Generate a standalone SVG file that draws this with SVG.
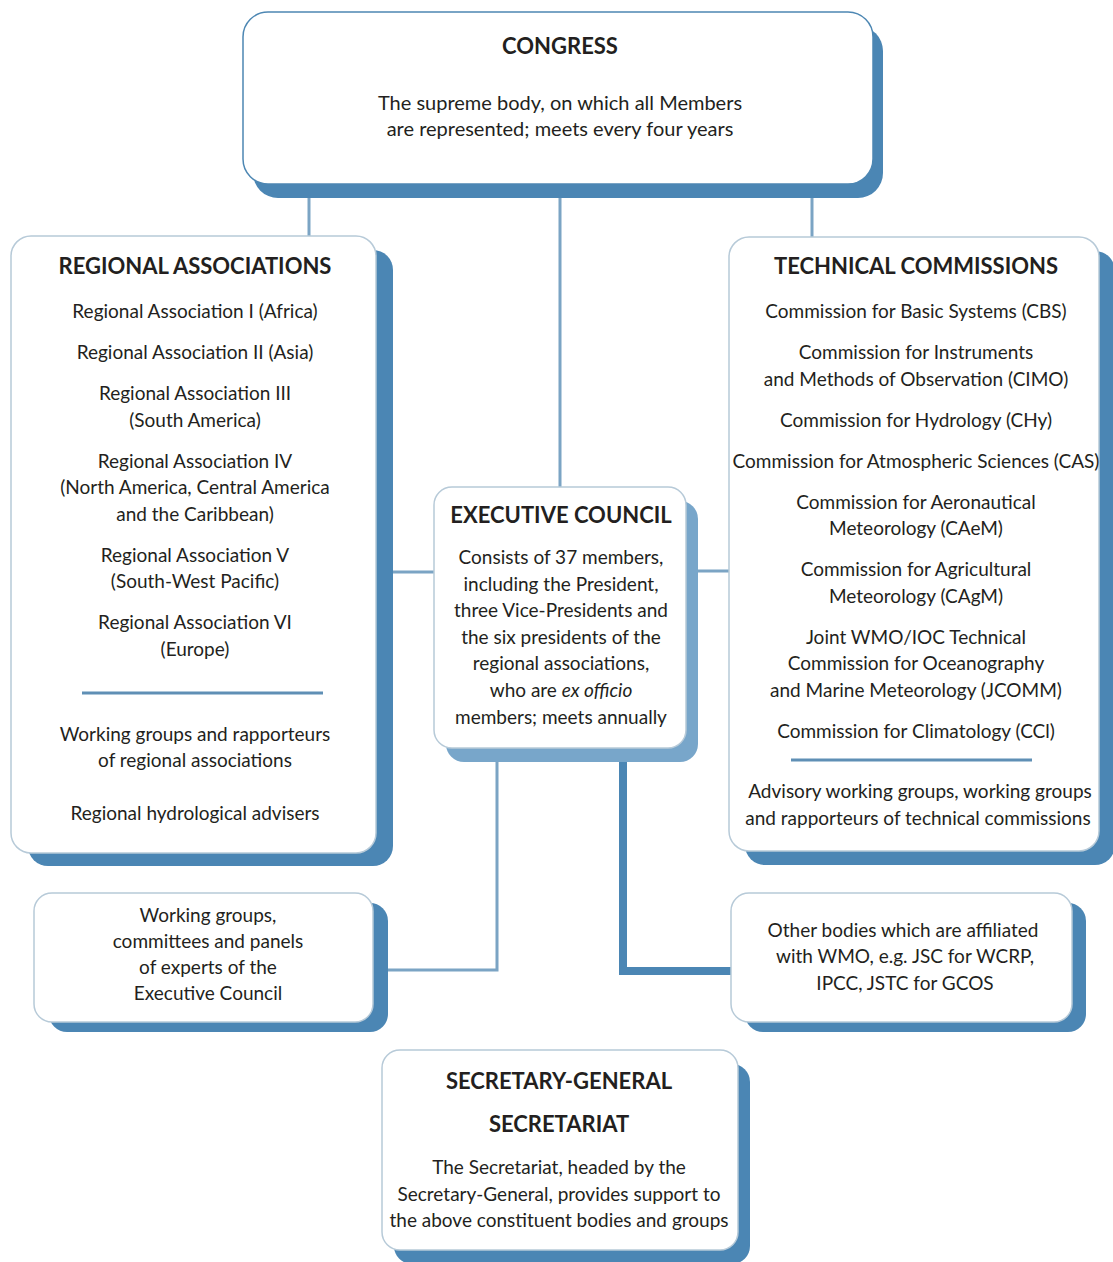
<svg xmlns="http://www.w3.org/2000/svg" width="1113" height="1262" viewBox="0 0 1113 1262">
<style>
.box{fill:#ffffff;stroke:#b7cad8;stroke-width:1.5}
.cbox{fill:#ffffff;stroke:#4d87b3;stroke-width:1.5}
.sh{fill:#4b86b4}
.shl{fill:#78a6ca}
.t{font-family:Lato,"Open Sans","Liberation Sans",sans-serif;font-size:19px;fill:#231f20;text-anchor:middle}
.tb{font-size:20px}
.h{font-family:Lato,"Open Sans","Liberation Sans",sans-serif;font-size:22px;font-weight:bold;fill:#231f20;text-anchor:middle}
.ln{stroke:#7ba4c4;stroke-width:3;fill:none}
.lnd{stroke:#4b86b4;stroke-width:8;fill:none}
.sep{stroke:#5f8fb5;stroke-width:3}
</style>
<rect width="1113" height="1262" fill="#ffffff"/>
<g id="connectors">
<line class="ln" x1="309" y1="196" x2="309" y2="238"/>
<line class="ln" x1="560" y1="196" x2="560" y2="489"/>
<line class="ln" x1="812" y1="196" x2="812" y2="239"/>
<line class="ln" x1="390" y1="572" x2="436" y2="572"/>
<line class="ln" x1="696" y1="571" x2="731" y2="571"/>
<polyline class="ln" points="497,760 497,970 386,970"/>
<polyline class="lnd" points="623,760 623,971 733,971"/>
</g>
<g id="congress">
<rect class="sh" x="253" y="26" width="630" height="172" rx="25"/>
<rect class="cbox" x="243" y="12" width="630" height="172" rx="25"/>
<text class="h" x="560" y="54">CONGRESS</text>
<text class="t tb" x="560" y="110">The supreme body, on which all Members</text>
<text class="t tb" x="560" y="136">are represented; meets every four years</text>
</g>
<g id="regional-associations">
<rect class="sh" x="28" y="250" width="365" height="616" rx="20"/>
<rect class="box" x="11" y="236" width="365" height="617" rx="20"/>
<text class="h" x="195" y="274">REGIONAL ASSOCIATIONS</text>
<text class="t" x="195" y="318">Regional Association I (Africa)</text>
<text class="t" x="195" y="359">Regional Association II (Asia)</text>
<text class="t" x="195" y="400">Regional Association III</text>
<text class="t" x="195" y="427">(South America)</text>
<text class="t" x="195" y="468">Regional Association IV</text>
<text class="t" x="195" y="494">(North America, Central America</text>
<text class="t" x="195" y="521">and the Caribbean)</text>
<text class="t" x="195" y="562">Regional Association V</text>
<text class="t" x="195" y="588">(South-West Pacific)</text>
<text class="t" x="195" y="629">Regional Association VI</text>
<text class="t" x="195" y="656">(Europe)</text>
<line class="sep" x1="82" y1="693" x2="323" y2="693"/>
<text class="t" x="195" y="741">Working groups and rapporteurs</text>
<text class="t" x="195" y="767">of regional associations</text>
<text class="t" x="195" y="820">Regional hydrological advisers</text>
</g>
<g id="technical-commissions">
<rect class="sh" x="745" y="251" width="370" height="614" rx="20"/>
<rect class="box" x="729" y="237" width="370" height="614" rx="20"/>
<text class="h" x="916" y="274">TECHNICAL COMMISSIONS</text>
<text class="t" x="916" y="318">Commission for Basic Systems (CBS)</text>
<text class="t" x="916" y="359">Commission for Instruments</text>
<text class="t" x="916" y="386">and Methods of Observation (CIMO)</text>
<text class="t" x="916" y="427">Commission for Hydrology (CHy)</text>
<text class="t" x="916" y="468">Commission for Atmospheric Sciences (CAS)</text>
<text class="t" x="916" y="509">Commission for Aeronautical</text>
<text class="t" x="916" y="535">Meteorology (CAeM)</text>
<text class="t" x="916" y="576">Commission for Agricultural</text>
<text class="t" x="916" y="603">Meteorology (CAgM)</text>
<text class="t" x="916" y="644">Joint WMO/IOC Technical</text>
<text class="t" x="916" y="670">Commission for Oceanography</text>
<text class="t" x="916" y="697">and Marine Meteorology (JCOMM)</text>
<text class="t" x="916" y="738">Commission for Climatology (CCl)</text>
<line class="sep" x1="791" y1="760" x2="1032" y2="760"/>
<text class="t" x="920" y="798">Advisory working groups, working groups</text>
<text class="t" x="918" y="825">and rapporteurs of technical commissions</text>
</g>
<g id="executive-council">
<rect class="shl" x="446" y="501" width="252" height="261" rx="18"/>
<rect class="box" x="434" y="487" width="252" height="261" rx="18"/>
<text class="h" x="561" y="523">EXECUTIVE COUNCIL</text>
<text class="t" x="561" y="564">Consists of 37 members,</text>
<text class="t" x="561" y="591">including the President,</text>
<text class="t" x="561" y="617">three Vice-Presidents and</text>
<text class="t" x="561" y="644">the six presidents of the</text>
<text class="t" x="561" y="670">regional associations,</text>
<text class="t" x="561" y="697">who are <tspan font-style="italic">ex officio</tspan></text>
<text class="t" x="561" y="724">members; meets annually</text>
</g>
<g id="ec-working-groups">
<rect class="sh" x="49" y="903" width="339" height="129" rx="18"/>
<rect class="box" x="34" y="893" width="339" height="129" rx="18"/>
<text class="t" x="208" y="922">Working groups,</text>
<text class="t" x="208" y="948">committees and panels</text>
<text class="t" x="208" y="974">of experts of the</text>
<text class="t" x="208" y="1000">Executive Council</text>
</g>
<g id="other-bodies">
<rect class="sh" x="745" y="903" width="341" height="129" rx="18"/>
<rect class="box" x="731" y="893" width="341" height="129" rx="18"/>
<text class="t" x="903" y="937">Other bodies which are affiliated</text>
<text class="t" x="905" y="963">with WMO, e.g. JSC for WCRP,</text>
<text class="t" x="905" y="990">IPCC, JSTC for GCOS</text>
</g>
<g id="secretariat">
<rect class="sh" x="394" y="1064" width="356" height="200" rx="18"/>
<rect class="box" x="382" y="1050" width="356" height="200" rx="18"/>
<text class="h" x="559" y="1089">SECRETARY-GENERAL</text>
<text class="h" x="559" y="1132">SECRETARIAT</text>
<text class="t" x="559" y="1174">The Secretariat, headed by the</text>
<text class="t" x="559" y="1201">Secretary-General, provides support to</text>
<text class="t" x="559" y="1227">the above constituent bodies and groups</text>
</g>
</svg>
